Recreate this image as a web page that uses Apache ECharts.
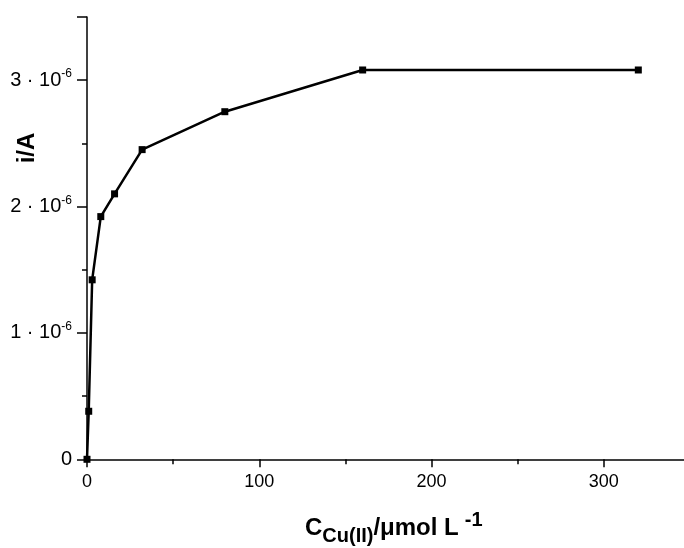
<!DOCTYPE html>
<html><head><meta charset="utf-8">
<script src="https://cdn.jsdelivr.net/npm/echarts@6/dist/echarts.min.js"></script>
<style>html,body{margin:0;padding:0;background:#fff}#c{width:684px;height:548px}</style>
</head><body><div id="c"></div>
<script>
const concentrations = [0, 1, 3, 8, 16, 32, 80, 160, 320];
const currents = [0, 0.38e-6, 1.42e-6, 1.92e-6, 2.10e-6, 2.45e-6, 2.75e-6, 3.08e-6, 3.08e-6];
const xTicks = [0, 100, 200, 300];
const yTickMantissas = [0, 1, 2, 3];

const chart = echarts.init(document.getElementById('c'));
const labelFont = 'Liberation Sans, Arial, sans-serif';
chart.setOption({
  animation: false,
  backgroundColor: '#fff',
  grid: {left: 87, width: 603, top: 16.9, bottom: 88.7, containLabel: false, outerBoundsMode: 'none'},
  xAxis: {
    type: 'value', min: 0, max: 350, interval: 100,
    axisLine: {show: true, onZero: false, lineStyle: {color: '#000', width: 1.5}},
    axisTick: {show: true, inside: false, length: 8, lineStyle: {color: '#000', width: 1.5}},
    minorTick: {show: true, splitNumber: 2, length: 5, lineStyle: {color: '#000', width: 1.5}},
    splitLine: {show: false},
    axisLabel: {color: '#000', fontSize: 18, fontFamily: labelFont, margin: 14,
      formatter: v => xTicks.includes(v) ? String(v) : ''}
  },
  yAxis: {
    type: 'value', min: 0, max: 3.5e-6, interval: 1e-6,
    axisLine: {show: true, onZero: false, lineStyle: {color: '#000', width: 1.5}},
    axisTick: {show: true, inside: false, length: 10, lineStyle: {color: '#000', width: 1.5}},
    minorTick: {show: true, splitNumber: 2, length: 5, lineStyle: {color: '#000', width: 1.5}},
    splitLine: {show: false},
    axisLabel: {color: '#000', fontFamily: labelFont, margin: 15,
      formatter: v => {
        const m = Math.round(v * 1e6);
        if (!yTickMantissas.includes(m)) return '';
        return m === 0 ? '{a|0}' : '{a|' + m + ' · 10}{s|-6}';
      },
      rich: {
        a: {fontSize: 20, fontFamily: labelFont, color: '#000'},
        s: {fontSize: 12, fontFamily: labelFont, color: '#000', padding: [0, 0, 12, 0]}
      }
    }
  },
  series: [{
    type: 'line',
    data: concentrations.map((c, i) => [c, currents[i]]),
    symbol: 'rect', symbolSize: 7,
    itemStyle: {color: '#000'},
    lineStyle: {color: '#000', width: 2.5}
  }],
  graphic: [
    {type: 'text', x: 305, y: 528, style: {
      align: 'left', verticalAlign: 'middle',
      text: '{m|C}{sub|Cu(II)}{m|/μmol L}{sup|-1}',
      rich: {
        m: {fontSize: 24, fontWeight: 'bold', fontFamily: labelFont, fill: '#000'},
        sub: {fontSize: 20, fontWeight: 'bold', fontFamily: labelFont, fill: '#000', padding: [16, 0, 0, 0]},
        sup: {fontSize: 20, fontWeight: 'bold', fontFamily: labelFont, fill: '#000', padding: [0, 0, 16, 6]}
      }
    }},
    {type: 'text', x: 27, y: 148, rotation: Math.PI / 2, style: {
      text: 'i/A', align: 'center', verticalAlign: 'middle',
      fontSize: 24, fontWeight: 'bold', fontFamily: labelFont, fill: '#000'
    }}
  ]
});
</script></body></html>
